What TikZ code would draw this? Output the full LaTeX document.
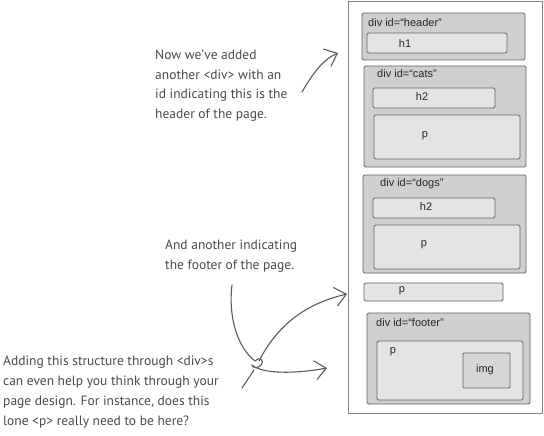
\documentclass[tikz,border=0pt]{standalone}
\usepackage{fontspec}
\setmainfont{Liberation Sans}
\newfontfamily\handfont{PT Sans}
\usetikzlibrary{arrows.meta}
\definecolor{divfill}{HTML}{CFCFCF}
\definecolor{boxfill}{HTML}{E4E4E4}
\definecolor{imgfill}{HTML}{D6D6D6}
\definecolor{edge}{HTML}{646464}
\definecolor{ink}{HTML}{5A5A5A}
\definecolor{hand}{HTML}{4A4A4A}
\tikzset{
  divbox/.style={draw=edge, fill=divfill, line width=0.9pt, rounded corners=1.5pt, inner sep=0pt},
  elbox/.style={draw=edge, fill=boxfill, line width=0.9pt, rounded corners=1.5pt, inner sep=0pt},
  imgbox/.style={draw=edge, fill=imgfill, line width=0.9pt, rounded corners=1pt, inner sep=0pt},
  tag/.style={font=\fontsize{11}{13}\selectfont, text=black!85, inner sep=0pt},
  note/.style={font=\handfont\fontsize{13.5}{19.5}\selectfont, text=hand, align=left, inner sep=0pt, anchor=north west},
  pen/.style={draw=ink, line width=1.1pt, line cap=round, line join=round},
  penarrow/.style={pen, -{Straight Barb[length=11pt,width=19pt,line width=1.1pt]}}
}
\begin{document}
\begin{tikzpicture}[x=1pt,y=-1pt]
\useasboundingbox (0,0) rectangle (544,436);
% page frame
\node[draw=edge!80, fill=white, line width=0.9pt, inner sep=0pt, minimum width=194pt, minimum height=412pt] (page) at (445,207) {};
% header
\node[divbox, minimum width=163pt, minimum height=47pt] (header) at (443.5,36.5) {};
\node[tag, anchor=west] (headerlbl) at (368,23) {div id=“header”};
\node[elbox, minimum width=140pt, minimum height=20pt] (h1) at (437,43) {};
\node[tag] (h1lbl) at (405,44) {h1};
% cats
\node[divbox, minimum width=162pt, minimum height=101pt] (cats) at (445,116.5) {};
\node[tag, anchor=west] (catslbl) at (377,74) {div id=“cats”};
\node[elbox, minimum width=122pt, minimum height=20pt] (cath2) at (434,98) {};
\node[tag] (cath2lbl) at (422,97) {h2};
\node[elbox, minimum width=146pt, minimum height=44pt] (catp) at (447,137) {};
\node[tag] (catplbl) at (425,136) {p};
% dogs
\node[divbox, minimum width=163pt, minimum height=98pt] (dogs) at (444.5,224) {};
\node[tag, anchor=west] (dogslbl) at (380,184) {div id=“dogs”};
\node[elbox, minimum width=122pt, minimum height=20pt] (dogh2) at (434,208) {};
\node[tag] (dogh2lbl) at (426,207) {h2};
\node[elbox, minimum width=146pt, minimum height=44pt] (dogp) at (447,247) {};
\node[tag] (dogplbl) at (424,245) {p};
% lone p
\node[elbox, minimum width=139pt, minimum height=18pt] (lonep) at (433.5,292) {};
\node[tag] (loneplbl) at (402,291) {p};
% footer
\node[divbox, minimum width=163pt, minimum height=91pt] (footer) at (448.5,358.5) {};
\node[tag, anchor=west] (footerlbl) at (376,323) {div id=“footer”};
\node[elbox, minimum width=146pt, minimum height=59pt] (footp) at (450,370.5) {};
\node[tag] (footplbl) at (393,352) {p};
\node[imgbox, minimum width=47pt, minimum height=35pt] (img) at (486.5,370.5) {};
\node[tag] (imglbl) at (485,370) {img};
% notes
\node[note] (note1) at (155,50) {Now we’ve added\\another <div> with an\\id indicating this is the\\header of the page.};
\node[note] (note2) at (165,240) {And another indicating\\the footer of the page.};
\node[note, font=\handfont\fontsize{13.5}{20}\selectfont] (note3) at (3,355.5) {Adding this structure through <div>s\\can even help you think through your\\page design. For instance, does this\\lone <p> really need to be here?};
% connectors
\coordinate (t1) at (302,92);
\coordinate (h1tip) at (338,53);
\draw[penarrow] (t1) .. controls (312,75) and (322,60) .. (h1tip);
\coordinate (t2) at (232,285);
\coordinate (knot) at (257,364);
\coordinate (t3) at (242,388);
\coordinate (ftip) at (327,368);
\coordinate (ptip) at (347,294);
\draw[pen] (t2) .. controls (228,318) and (238,348) .. (255,361)
  .. controls (259,356) and (265,360) .. (261,365)
  .. controls (258,369) and (252,368) .. (252,365);
\draw[penarrow] (252,365) .. controls (262,374) and (295,374) .. (ftip);
\draw[pen] (t3) -- (254,370);
\draw[penarrow] (259,361) .. controls (275,330) and (300,305) .. (ptip);
\end{tikzpicture}
\end{document}
